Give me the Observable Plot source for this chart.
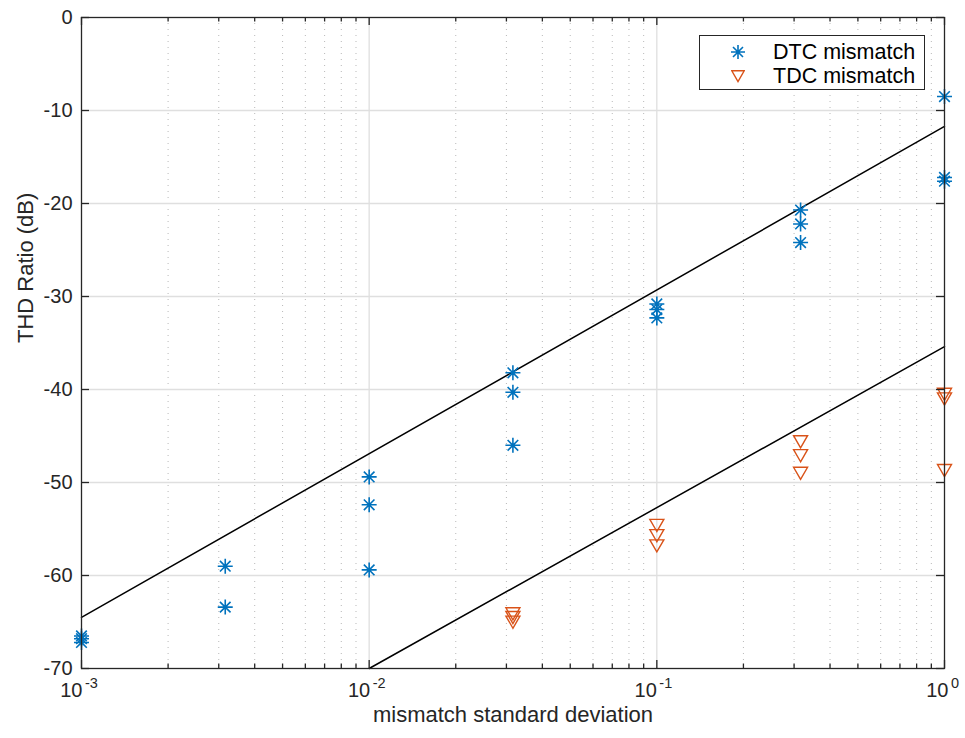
<!DOCTYPE html>
<html><head><meta charset="utf-8">
<script src="https://cdn.jsdelivr.net/npm/d3@7"></script>
<script src="https://cdn.jsdelivr.net/npm/@observablehq/plot@0.6"></script>
<style>
body{margin:0;background:#fff;font-family:"Liberation Sans",Arial,sans-serif;}
#wrap{position:relative;width:965px;height:738px;}
#legend{position:absolute;left:699px;top:35px;width:224px;height:53px;border:1.3px solid #262626;background:#fff;font-size:21.5px;color:#000;}
#legend .row{position:absolute;left:0;width:224px;height:24px;}
#legend svg{position:absolute;left:31px;top:5px;}
#legend span{position:absolute;left:73px;top:0;line-height:24px;white-space:nowrap;}
</style></head>
<body><div id="wrap"><div id="legend"></div></div>
<script>
const sigma = [0.001, 0.001, 0.001, 0.00316, 0.00316, 0.01, 0.01, 0.01, 0.0316, 0.0316, 0.0316, 0.1, 0.1, 0.1, 0.316, 0.316, 0.316, 1, 1, 1];
const dtcThd = [-66.5, -66.8, -67.2, -59.0, -63.4, -49.4, -52.4, -59.4, -38.2, -40.3, -46.0, -30.8, -31.4, -32.3, -20.7, -22.2, -24.2, -8.5, -17.2, -17.6];
const tdcSigma = [0.0316, 0.0316, 0.0316, 0.1, 0.1, 0.1, 0.316, 0.316, 0.316, 1, 1, 1];
const tdcThd = [-63.9, -64.3, -64.8, -54.4, -55.5, -56.6, -45.4, -46.9, -48.8, -40.3, -40.8, -48.5];
const upperX = [0.001, 1], upperY = [-64.5, -11.7];
const lowerX = [0.01, 1], lowerY = [-70, -35.4];
const decades = [0.001, 0.01, 0.1, 1];
const exponents = ["-3", "-2", "-1", "0"];
const yTicks = [-70, -60, -50, -40, -30, -20, -10, 0];
const seriesNames = ["DTC mismatch", "TDC mismatch"];

const blue = "#0072BD", orange = "#D95319", ink = "#262626";
const minor = [];
for (const d of decades.slice(0, 3)) for (let k = 2; k <= 9; k++) minor.push(d * k);

const asterisk = {
  draw(ctx, size) {
    const r = Math.sqrt(size / Math.PI), q = r / Math.SQRT2;
    ctx.moveTo(0, -r); ctx.lineTo(0, r);
    ctx.moveTo(-r, 0); ctx.lineTo(r, 0);
    ctx.moveTo(-q, -q); ctx.lineTo(q, q);
    ctx.moveTo(-q, q); ctx.lineTo(q, -q);
  }
};

const dtc = sigma.map((s, i) => ({s, v: dtcThd[i]}));
const tdc = tdcSigma.map((s, i) => ({s, v: tdcThd[i]}));
const upper = upperX.map((s, i) => ({s, v: upperY[i]}));
const lower = lowerX.map((s, i) => ({s, v: lowerY[i]}));

// horizontal offsets of the "10" base so that "10^e" is centred on its tick
const baseEnd = [1, 1, 0, 4];
const labelMarks = decades.flatMap((d, i) => [
  Plot.text([d], {x: d => d, frameAnchor: "bottom", dy: 28.5, dx: baseEnd[i], text: () => "10", textAnchor: "end", fontSize: 20, fill: ink}),
  Plot.text([d], {x: d => d, frameAnchor: "bottom", dy: 19.5, dx: baseEnd[i] + 2.5, text: () => exponents[i], textAnchor: "start", fontSize: 14.5, fill: ink})
]);

const chart = Plot.plot({
  width: 965, height: 738,
  marginLeft: 81, marginRight: 21, marginTop: 17, marginBottom: 70,
  style: {fontFamily: "'Liberation Sans', Arial, sans-serif", fontSize: "20px", color: ink, background: "#fff"},
  x: {type: "log", domain: [0.001, 1]},
  y: {domain: [-70, 0]},
  marks: [
    Plot.ruleX(minor, {stroke: "#b0b0b0", strokeWidth: 1, strokeDasharray: "1,5", strokeOpacity: 0.9}),
    Plot.ruleX(decades.slice(1, 3), {stroke: "#dfdfdf", strokeWidth: 1.3}),
    Plot.ruleY(yTicks.slice(1, 7), {stroke: "#dfdfdf", strokeWidth: 1.3}),
    Plot.line(upper, {x: "s", y: "v", stroke: "#000", strokeWidth: 1.5}),
    Plot.line(lower, {x: "s", y: "v", stroke: "#000", strokeWidth: 1.5}),
    Plot.dot(dtc, {x: "s", y: "v", symbol: asterisk, r: 7.5, stroke: blue, strokeWidth: 1.6, fill: "none"}),
    Plot.dot(tdc, {x: "s", y: "v", symbol: "triangle", rotate: 180, r: 5.2, stroke: orange, strokeWidth: 1.4, fill: "none"}),
    // ticks inside the box
    Plot.ruleX(decades, {y1: -70, y2: -70, insetBottom: 8, stroke: ink, strokeWidth: 1.3}),
    Plot.ruleX(decades, {y1: 0, y2: 0, insetTop: 8, stroke: ink, strokeWidth: 1.3}),
    Plot.ruleX(minor, {y1: -70, y2: -70, insetBottom: 4.5, stroke: ink, strokeWidth: 1.3}),
    Plot.ruleX(minor, {y1: 0, y2: 0, insetTop: 4.5, stroke: ink, strokeWidth: 1.3}),
    Plot.ruleY(yTicks, {x1: 0.001, x2: 0.001, insetRight: -8, stroke: ink, strokeWidth: 1.3}),
    Plot.ruleY(yTicks, {x1: 1, x2: 1, insetLeft: -8, stroke: ink, strokeWidth: 1.3}),
    Plot.frame({stroke: ink, strokeWidth: 1.3}),
    Plot.axisY(yTicks, {tickSize: 0, tickPadding: 9, tickFormat: d => String(d), fontSize: 20, fill: ink, label: null}),
    Plot.axisX({ticks: [], tickSize: 0, label: null}),
    ...labelMarks,
    Plot.text(["mismatch standard deviation"], {frameAnchor: "bottom", dy: 53, fontSize: 22, fill: ink}),
    Plot.text(["THD Ratio (dB)"], {frameAnchor: "left", dx: -56, rotate: -90, fontSize: 22, fill: ink})
  ]
});
const wrap = document.getElementById("wrap");
wrap.insertBefore(chart, wrap.firstChild);

const legend = document.getElementById("legend");
seriesNames.forEach((label, i) => {
  const row = document.createElement("div");
  row.className = "row";
  row.style.top = (4 + i * 24) + "px";
  const path = i === 0
    ? `<path d="M7,0V14M0,7H14M2,2L12,12M2,12L12,2" stroke="${blue}" stroke-width="1.6" fill="none"/>`
    : `<path d="M0.8,1.8H13.2L7,12.6Z" stroke="${orange}" stroke-width="1.4" fill="none"/>`;
  row.innerHTML = `<svg width="14" height="14" viewBox="0 0 14 14">${path}</svg><span>${label}</span>`;
  legend.appendChild(row);
});
</script></body></html>
